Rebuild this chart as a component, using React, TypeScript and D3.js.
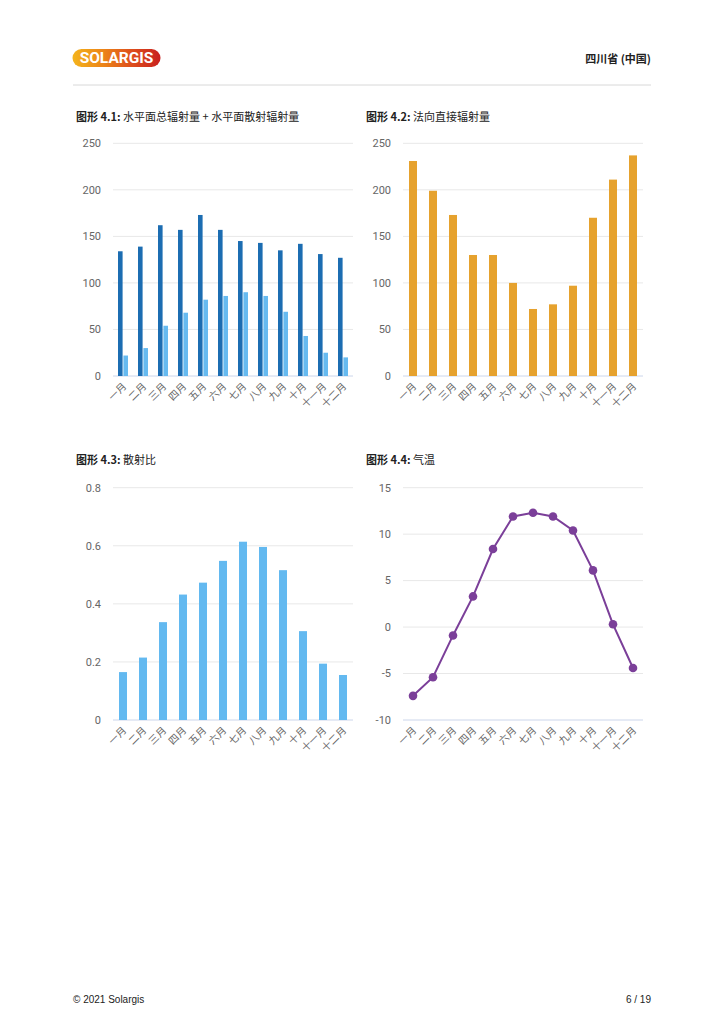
import React from 'react';
import * as d3 from 'd3';

const months = ['一月', '二月', '三月', '四月', '五月', '六月', '七月', '八月', '九月', '十月', '十一月', '十二月'];
const ghi = [134, 139, 162, 157, 173, 157, 145, 143, 135, 142, 131, 127];
const dif = [22, 30, 54, 68, 82, 86, 90, 86, 69, 43, 25, 20];
const dni = [231, 199, 173, 130, 130, 100, 72, 77, 97, 170, 211, 237];
const diffRatio = [0.165, 0.215, 0.337, 0.432, 0.473, 0.548, 0.614, 0.596, 0.516, 0.306, 0.194, 0.155];
const temperature = [-7.4, -5.4, -0.9, 3.3, 8.4, 11.9, 12.3, 11.9, 10.4, 6.1, 0.3, -4.4];

const ticks1 = [0, 50, 100, 150, 200, 250];
const ticks3 = [0, 0.2, 0.4, 0.6, 0.8];
const ticks4 = [-10, -5, 0, 5, 10, 15];

const FONT = "Roboto, 'Noto Sans CJK SC', sans-serif";
const CJK = "'Noto Sans CJK SC', Roboto, sans-serif";

type Frame = { x0: number; x1: number; yTop: number; yBottom: number };

const Axes = ({ f, y, ticks, fmt }: { f: Frame; y: d3.ScaleLinear<number, number>; ticks: number[]; fmt: (v: number) => string }) => {
  const x = d3.scaleBand<string>().domain(months).range([f.x0, f.x1]);
  return (
    <g>
      {ticks.map((t, i) => (
        <g key={t}>
          <line x1={f.x0} x2={f.x1} y1={y(t)} y2={y(t)} stroke={i === 0 ? '#ccd6eb' : '#e8e8e8'} strokeWidth={1} />
          <text x={f.x0 - 12} y={y(t)} dy="0.35em" textAnchor="end" fontSize={11} fill="#666" fontFamily={FONT}>
            {fmt(t)}
          </text>
        </g>
      ))}
      {months.map((m) => {
        const cx = (x(m) as number) + x.bandwidth() / 2;
        return (
          <text key={m} transform={`translate(${cx + 4},${f.yBottom + 11}) rotate(-45)`} textAnchor="end" fontSize={10} fill="#666" fontFamily={CJK}>
            {m}
          </text>
        );
      })}
    </g>
  );
};

const Title = ({ x, y, num, label }: { x: number; y: number; num: string; label: string }) => (
  <text x={x} y={y} fontSize={11} fill="#222" fontFamily={CJK}>
    <tspan fontWeight="bold">图形 {num}:</tspan> {label}
  </text>
);

const f1: Frame = { x0: 113, x1: 353, yTop: 143.3, yBottom: 376 };
const f2: Frame = { x0: 403, x1: 643, yTop: 143.3, yBottom: 376 };
const f3: Frame = { x0: 113, x1: 353, yTop: 487.7, yBottom: 720 };
const f4: Frame = { x0: 403, x1: 643, yTop: 487.7, yBottom: 720 };

const App = () => {
  // chart 1
  const x1 = d3.scaleBand<string>().domain(months).range([f1.x0, f1.x1]).paddingInner(0.5).paddingOuter(0.25);
  const inner = d3.scaleBand<string>().domain(['ghi', 'dif']).range([0, x1.bandwidth()]).paddingInner(0.15);
  const y1 = d3.scaleLinear().domain([0, 250]).range([f1.yBottom, f1.yTop]);

  // chart 2
  const x2 = d3.scaleBand<string>().domain(months).range([f2.x0, f2.x1]).paddingInner(0.6).paddingOuter(0.3);
  const y2 = d3.scaleLinear().domain([0, 250]).range([f2.yBottom, f2.yTop]);

  // chart 3
  const x3 = d3.scaleBand<string>().domain(months).range([f3.x0, f3.x1]).paddingInner(0.6).paddingOuter(0.3);
  const y3 = d3.scaleLinear().domain([0, 0.8]).range([f3.yBottom, f3.yTop]);

  // chart 4
  const x4 = d3.scalePoint<string>().domain(months).range([f4.x0, f4.x1]).padding(0.5);
  const y4 = d3.scaleLinear().domain([-10, 15]).range([f4.yBottom, f4.yTop]);
  const line = d3.line<number>().x((_, i) => x4(months[i]) as number).y((d) => y4(d));

  return (
    <div style={{ position: 'absolute', left: 0, top: 0 }}>
      <svg width={723} height={1024} style={{ display: 'block', background: '#fff' }}>
        <defs>
          <linearGradient id="logo" x1="0" x2="1" y1="0" y2="0">
            <stop offset="0" stopColor="#f4b41c" />
            <stop offset="0.35" stopColor="#ec8418" />
            <stop offset="0.7" stopColor="#dc4a1c" />
            <stop offset="1" stopColor="#c8201e" />
          </linearGradient>
        </defs>

        {/* header */}
        <rect x={72.5} y={49} width={88} height={18} rx={9} fill="url(#logo)" />
        <text x={116.5} y={63.3} textAnchor="middle" fontSize={15.5} fontWeight="bold" fill="#fff" fontFamily="Roboto, sans-serif">
          SOLARGIS
        </text>
        <text x={651} y={63} textAnchor="end" fontSize={11} fontWeight="bold" fill="#222" fontFamily={CJK}>
          四川省 (中国)
        </text>
        <line x1={73} x2={651} y1={85} y2={85} stroke="#d8d8d8" strokeWidth={1} />

        {/* chart 4.1 */}
        <Title x={76} y={121} num="4.1" label="水平面总辐射量 + 水平面散射辐射量" />
        <Axes f={f1} y={y1} ticks={ticks1} fmt={(v) => String(v)} />
        {months.map((m, i) => (
          <g key={m} transform={`translate(${x1(m)},0)`}>
            <rect x={inner('ghi')} y={y1(ghi[i])} width={inner.bandwidth()} height={y1(0) - y1(ghi[i])} fill="#1c6db2" />
            <rect x={inner('dif')} y={y1(dif[i])} width={inner.bandwidth()} height={y1(0) - y1(dif[i])} fill="#66baf0" />
          </g>
        ))}

        {/* chart 4.2 */}
        <Title x={366} y={121} num="4.2" label="法向直接辐射量" />
        <Axes f={f2} y={y2} ticks={ticks1} fmt={(v) => String(v)} />
        {months.map((m, i) => (
          <rect key={m} x={x2(m)} y={y2(dni[i])} width={x2.bandwidth()} height={y2(0) - y2(dni[i])} fill="#e6a22e" />
        ))}

        {/* chart 4.3 */}
        <Title x={76} y={464} num="4.3" label="散射比" />
        <Axes f={f3} y={y3} ticks={ticks3} fmt={(v) => (v === 0 ? '0' : String(v))} />
        {months.map((m, i) => (
          <rect key={m} x={x3(m)} y={y3(diffRatio[i])} width={x3.bandwidth()} height={y3(0) - y3(diffRatio[i])} fill="#63b9f0" />
        ))}

        {/* chart 4.4 */}
        <Title x={366} y={464} num="4.4" label="气温" />
        <Axes f={f4} y={y4} ticks={ticks4} fmt={(v) => String(v)} />
        <path d={line(temperature) ?? ''} fill="none" stroke="#7b3f99" strokeWidth={2} />
        {temperature.map((t, i) => (
          <circle key={i} cx={x4(months[i])} cy={y4(t)} r={4.3} fill="#7b3f99" />
        ))}

        {/* footer */}
        <text x={73} y={1003} fontSize={10} fill="#222" fontFamily="'Liberation Sans', Arial, sans-serif">
          © 2021 Solargis
        </text>
        <text x={651} y={1003} textAnchor="end" fontSize={10} fill="#222" fontFamily="'Liberation Sans', Arial, sans-serif">
          6 / 19
        </text>
      </svg>
    </div>
  );
};

export default App;
